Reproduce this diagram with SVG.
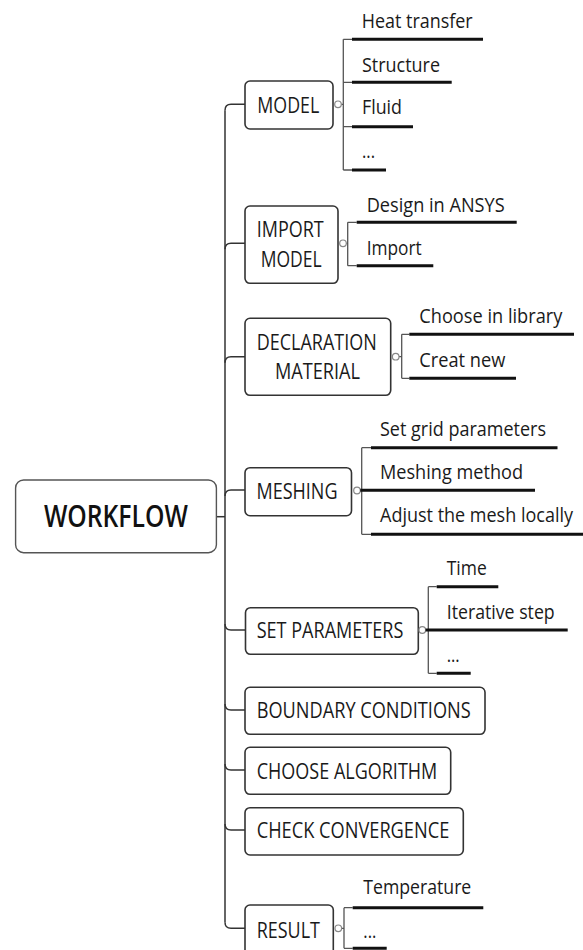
<svg xmlns="http://www.w3.org/2000/svg" width="583" height="950" viewBox="0 0 583 950">
  <style>
    .box { fill: #ffffff; stroke: #333333; stroke-width: 1.6; }
    .root { fill: #ffffff; stroke: #555555; stroke-width: 1.4; }
    .wire { fill: none; stroke: #333333; stroke-width: 1.5; }
    .tick { fill: none; stroke: #555555; stroke-width: 1.3; }
    .under { fill: none; stroke: #111111; stroke-width: 3; }
    .knob { fill: #ffffff; stroke: #888888; stroke-width: 1.2; }
    text { font-family: "Open Sans", "Noto Sans", "DejaVu Sans", sans-serif; fill: #1a1a1a; }
    .n { font-size: 22px; }
    .c { font-size: 20px; }
    .r { font-size: 30px; font-weight: 600; fill: #111111; }
  </style>

  <!-- trunk and branches -->
  <g id="connectors">
    <path class="wire" d="M216.5,516.7 H225"/>
    <path class="wire" d="M225,110.3 V922.3"/>
    <path class="wire" d="M225,110.3 Q225,104.3 231,104.3 H245"/>
    <path class="wire" d="M225,249.3 Q225,243.3 231,243.3 H245"/>
    <path class="wire" d="M225,362.7 Q225,356.7 231,356.7 H245"/>
    <path class="wire" d="M225,496 Q225,490 231,490 H245"/>
    <path class="wire" d="M225,624 Q225,630 231,630 H245.5"/>
    <path class="wire" d="M225,704 Q225,710 231,710 H245"/>
    <path class="wire" d="M225,764 Q225,770 231,770 H245"/>
    <path class="wire" d="M225,824 Q225,830 231,830 H245"/>
    <path class="wire" d="M225,922.3 Q225,928.3 231,928.3 H245"/>
  </g>

  <g id="workflow">
    <rect class="root" x="15.6" y="480" width="200.8" height="72.7" rx="8"/>
    <text class="r" x="43.9" y="527.3" textLength="144" lengthAdjust="spacingAndGlyphs">WORKFLOW</text>
  </g>

  <g id="model">
    <rect class="box" x="245" y="81" width="88" height="48" rx="5"/>
    <text class="n" x="257.3" y="112.7" textLength="62" lengthAdjust="spacingAndGlyphs">MODEL</text>
    <path class="tick" d="M341.3,104.3 H343.3 M343.3,39.3 V170 M343.3,39.3 H352 M343.3,82.3 H352 M343.3,126.7 H352 M343.3,170 H352"/>
    <circle class="knob" cx="338" cy="104.3" r="3.3"/>
    <path class="under" d="M352,39.3 H483 M352,82.3 H451.7 M352,126.7 H413 M352,170 H386"/>
    <text class="c" x="361.7" y="28.3" textLength="111" lengthAdjust="spacingAndGlyphs">Heat transfer</text>
    <text class="c" x="362" y="71.7" textLength="78" lengthAdjust="spacingAndGlyphs">Structure</text>
    <text class="c" x="362" y="114.3" textLength="40" lengthAdjust="spacingAndGlyphs">Fluid</text>
    <text class="c" x="362" y="158.3" textLength="13" lengthAdjust="spacingAndGlyphs">...</text>
  </g>

  <g id="import-model">
    <rect class="box" x="245" y="206" width="93" height="77.3" rx="5"/>
    <text class="n" x="256.7" y="237.3" textLength="67" lengthAdjust="spacingAndGlyphs">IMPORT</text>
    <text class="n" x="260.7" y="266.7" textLength="61" lengthAdjust="spacingAndGlyphs">MODEL</text>
    <path class="tick" d="M346.3,243.3 H347.7 M347.7,222.3 V265.7 M347.7,222.3 H356.7 M347.7,265.7 H356.7"/>
    <circle class="knob" cx="343" cy="243.3" r="3.3"/>
    <path class="under" d="M356.7,222.3 H516.7 M356.7,265.7 H433.3"/>
    <text class="c" x="366.7" y="211.7" textLength="138" lengthAdjust="spacingAndGlyphs">Design in ANSYS</text>
    <text class="c" x="366.7" y="255" textLength="55" lengthAdjust="spacingAndGlyphs">Import</text>
  </g>

  <g id="declaration-material">
    <rect class="box" x="245" y="318.3" width="145.7" height="77" rx="5"/>
    <text class="n" x="256.7" y="350" textLength="120" lengthAdjust="spacingAndGlyphs">DECLARATION</text>
    <text class="n" x="275" y="379" textLength="85" lengthAdjust="spacingAndGlyphs">MATERIAL</text>
    <path class="tick" d="M399,356.7 H401.7 M401.7,334.3 V378.3 M401.7,334.3 H409.3 M401.7,378.3 H409.3"/>
    <circle class="knob" cx="395.7" cy="356.7" r="3.3"/>
    <path class="under" d="M409.3,334.3 H574 M409.3,378.3 H516"/>
    <text class="c" x="419.3" y="323.3" textLength="143" lengthAdjust="spacingAndGlyphs">Choose in library</text>
    <text class="c" x="419.3" y="366.7" textLength="86" lengthAdjust="spacingAndGlyphs">Creat new</text>
  </g>

  <g id="meshing">
    <rect class="box" x="245" y="467.7" width="106.5" height="48" rx="5"/>
    <text class="n" x="256.5" y="499" textLength="81" lengthAdjust="spacingAndGlyphs">MESHING</text>
    <path class="tick" d="M360.3,490.3 H361.7 M361.7,447.7 V534.3 M361.7,447.7 H371 M361.7,534.3 H371"/>
    <circle class="knob" cx="357" cy="490.5" r="3.3"/>
    <path class="under" d="M371,447.7 H557.5 M360.3,490.3 H535 M371,534.3 H583"/>
    <text class="c" x="380" y="436" textLength="166" lengthAdjust="spacingAndGlyphs">Set grid parameters</text>
    <text class="c" x="380" y="479" textLength="143" lengthAdjust="spacingAndGlyphs">Meshing method</text>
    <text class="c" x="380" y="522.3" textLength="193" lengthAdjust="spacingAndGlyphs">Adjust the mesh locally</text>
  </g>

  <g id="set-parameters">
    <rect class="box" x="245.5" y="607.7" width="172.8" height="46.6" rx="5"/>
    <text class="n" x="256.7" y="638.3" textLength="146.6" lengthAdjust="spacingAndGlyphs">SET PARAMETERS</text>
    <path class="tick" d="M425.6,630 H428.3 M428.3,586.7 V673.3 M428.3,586.7 H436.7 M428.3,673.3 H436.7"/>
    <circle class="knob" cx="422.3" cy="630" r="3.3"/>
    <path class="under" d="M436.7,586.7 H498.3 M425.6,630 H567.7 M436.7,673.3 H470.7"/>
    <text class="c" x="446.7" y="575" textLength="40" lengthAdjust="spacingAndGlyphs">Time</text>
    <text class="c" x="446.7" y="619" textLength="108" lengthAdjust="spacingAndGlyphs">Iterative step</text>
    <text class="c" x="446.7" y="661.7" textLength="13" lengthAdjust="spacingAndGlyphs">...</text>
  </g>

  <g id="boundary-conditions">
    <rect class="box" x="245" y="687.3" width="240" height="47" rx="5"/>
    <text class="n" x="256.7" y="718.3" textLength="214" lengthAdjust="spacingAndGlyphs">BOUNDARY CONDITIONS</text>
  </g>

  <g id="choose-algorithm">
    <rect class="box" x="245" y="747.3" width="205.7" height="47" rx="5"/>
    <text class="n" x="256.7" y="779.3" textLength="180.6" lengthAdjust="spacingAndGlyphs">CHOOSE ALGORITHM</text>
  </g>

  <g id="check-convergence">
    <rect class="box" x="245" y="807.7" width="218.3" height="47.3" rx="5"/>
    <text class="n" x="256.7" y="838.3" textLength="192.6" lengthAdjust="spacingAndGlyphs">CHECK CONVERGENCE</text>
  </g>

  <g id="result">
    <rect class="box" x="245" y="905" width="88.3" height="52" rx="5"/>
    <text class="n" x="256.7" y="938.3" textLength="63.3" lengthAdjust="spacingAndGlyphs">RESULT</text>
    <path class="tick" d="M341.6,928.3 H344 M344,907.7 V948.3 M344,907.7 H352.7 M344,948.3 H352.7"/>
    <circle class="knob" cx="338.3" cy="928.3" r="3.3"/>
    <path class="under" d="M352.7,907.7 H483.3 M352.7,948.3 H386.7"/>
    <text class="c" x="363.3" y="894.3" textLength="108" lengthAdjust="spacingAndGlyphs">Temperature</text>
    <text class="c" x="363.3" y="938.3" textLength="13" lengthAdjust="spacingAndGlyphs">...</text>
  </g>
</svg>
